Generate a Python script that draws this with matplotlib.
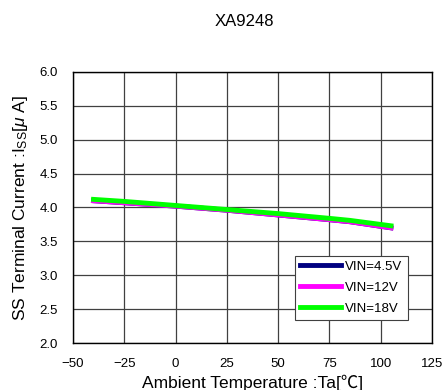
import matplotlib.pyplot as plt

temps = [-40, -25, 0, 25, 50, 75, 85, 105]
iss_4v5 = [4.10, 4.07, 4.02, 3.96, 3.89, 3.82, 3.79, 3.70]
iss_12v = [4.10, 4.07, 4.02, 3.96, 3.89, 3.82, 3.79, 3.70]
iss_18v = [4.12, 4.09, 4.03, 3.97, 3.91, 3.84, 3.81, 3.73]

plt.rcParams['font.family'] = ['Liberation Sans', 'Noto Sans CJK JP', 'DejaVu Sans']
plt.rcParams['mathtext.fontset'] = 'custom'
plt.rcParams['mathtext.rm'] = 'Liberation Sans'
plt.rcParams['mathtext.it'] = 'Liberation Sans:italic'

fig = plt.figure(figsize=(4.44, 3.90), dpi=100)
ax = fig.add_axes([0.1644, 0.1205, 0.8086, 0.6949])

ax.plot(temps, iss_4v5, color='#000080', lw=3.5, label='VIN=4.5V')
ax.plot(temps, iss_12v, color='#ff00ff', lw=3.5, label='VIN=12V')
ax.plot(temps, iss_18v, color='#00ff00', lw=3.5, label='VIN=18V')

ax.set_xlim(-50, 125)
ax.set_ylim(2.0, 6.0)
ax.set_xticks(range(-50, 126, 25))
ax.set_yticks([2.0, 2.5, 3.0, 3.5, 4.0, 4.5, 5.0, 5.5, 6.0])
ax.set_yticklabels([f'{v:.1f}' for v in ax.get_yticks()])
ax.tick_params(labelsize=9.5, length=0)
ax.tick_params(axis='x', pad=11)
ax.tick_params(axis='y', pad=11)
ax.grid(True, color='#404040', lw=0.9)
for s in ax.spines.values():
    s.set_linewidth(1.0)

ax.set_xlabel('Ambient Temperature :Ta[℃]', fontsize=12.5, labelpad=3)
ax.set_ylabel(r'SS Terminal Current :I$_{\rm SS}$[$\mu$ A]', fontsize=12.5, labelpad=7)
fig.text(0.55, 0.945, 'XA9248', ha='center', va='center', fontsize=12)

leg = ax.legend(loc='lower right', bbox_to_anchor=(0.932, 0.085), fontsize=9.5,
                fancybox=False, edgecolor='#404040', framealpha=1,
                handlelength=3.1, handletextpad=0.3, borderpad=0.4,
                labelspacing=0.65, borderaxespad=0)
leg.get_frame().set_linewidth(0.8)

fig.savefig('out.png', dpi=100)
